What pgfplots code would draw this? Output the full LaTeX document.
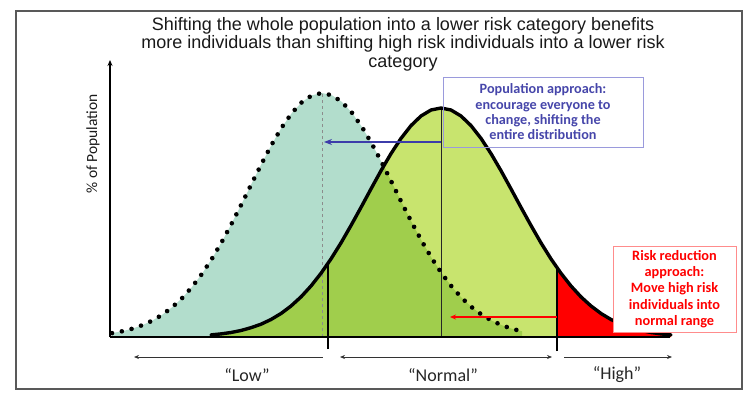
\documentclass[border=0pt]{standalone}
\usepackage{pgfplots}
\pgfplotsset{compat=1.18}
\usepackage{pgfplotstable}
\usetikzlibrary{arrows.meta}
\usepackage{fontspec}
\setmainfont{Liberation Sans}
\newfontfamily\calfont{Carlito}
\definecolor{teal1}{HTML}{B2DDCC}
\definecolor{lgreen}{HTML}{C8E46E}
\definecolor{dgreen}{HTML}{A0CE4C}
\definecolor{bluetxt}{HTML}{4646AA}
\definecolor{bluearr}{HTML}{3C3CAA}
\definecolor{blueborder}{HTML}{9A9ADC}
\definecolor{redborder}{HTML}{FF8C8C}

\pgfplotstableread{
x y
211 2.1
221 3.1
231 4.5
241 6.5
251 9.3
261 12.8
271 17.5
281 23.5
291 31.0
301 40.1
311 51.0
321 63.7
331 78.1
341 94.1
351 111.5
361 129.6
371 148.1
381 166.3
391 183.4
401 198.6
411 211.4
421 221.0
431 227.0
441 229.0
451 227.0
461 221.0
471 211.4
481 198.6
491 183.4
501 166.3
511 148.1
521 129.6
531 111.5
541 94.1
551 78.1
561 63.7
571 51.0
581 40.1
591 31.0
601 23.5
611 17.5
621 12.8
631 9.3
641 6.5
651 4.5
661 3.1
671 2.1
}\solid

\pgfplotstableread{
x y
112 3.9
122 5.7
132 8.2
142 11.7
152 16.2
162 22.1
172 29.6
182 38.8
192 50.0
202 63.2
212 78.4
222 95.5
232 114.1
242 133.8
252 154.1
262 174.1
272 193.0
282 210.0
292 224.2
302 235.0
312 241.7
322 244.0
332 241.7
342 235.0
352 224.2
362 210.0
372 193.0
382 174.1
392 154.1
402 133.8
412 114.1
422 95.5
432 78.4
442 63.2
452 50.0
462 38.8
472 29.6
482 22.1
492 16.2
502 11.7
512 8.2
522 5.7
}\dotted

\begin{document}
\begin{tikzpicture}[x=1pt,y=1pt]
\useasboundingbox (0,0) rectangle (750,400);
\draw[black!65, line width=1.6pt] (16,11) rectangle (742,389);
\node[align=center, font=\fontsize{18}{18.5}\selectfont, text=black!90] at (403,356)
  {Shifting the whole population into a lower risk category benefits\\
   more individuals than shifting high risk individuals into a lower risk\\
   category};
\begin{axis}[
  x=1pt, y=1pt, xmin=110, xmax=670, ymin=0, ymax=277,
  anchor=south west, at={(110,63)}, scale only axis,
  axis lines=left, xtick=\empty, ytick=\empty,
  x axis line style={-, line width=2.4pt},
  y axis line style={-{Stealth[length=6pt,width=5pt]}, line width=1.8pt},
  axis on top, clip=false,
]
% fills
\addplot[fill=teal1, draw=none] table {\dotted} \closedcycle;
\addplot[fill=lgreen, draw=none] table {\solid} \closedcycle;
\addplot[fill=dgreen, draw=none] coordinates {
(211,0)(211,2.1)(221,3.1)(231,4.5)(241,6.5)(251,9.3)(261,12.8)(271,17.5)(281,23.5)
(291,31.0)(301,40.1)(311,51.0)(321,63.7)(331,78.1)(341,94.1)(351,111.5)(361,129.6)
(371,148.1)(381,166.3)(384,171)(392,154.1)(402,133.8)(412,114.1)(422,95.5)(432,78.4)
(442,63.2)(452,50.0)(462,38.8)(472,29.6)(482,22.1)(492,16.2)(502,11.7)(512,8.2)
(522,5.7)(522,0)} -- cycle;
\addplot[fill=red, draw=none] coordinates {
(557,0)(557,69.3)(561,63.7)(571,51.0)(581,40.1)(591,31.0)(601,23.5)(611,17.5)
(621,12.8)(631,9.3)(641,6.5)(651,4.5)(661,3.1)(671,2.1)(671,0)} -- cycle;
% guide lines
\draw[black!45, dashed, line width=0.6pt] (322,0) -- (322,244);
\draw[black, line width=1.1pt] (328,-12) -- (328,73.6);
\draw[black, line width=1.5pt] (557,-14) -- (557,69.3);
\draw[black!85, line width=1pt] (441,0) -- (441,229);
% curves
\addplot[black, line width=4.6pt, line cap=round, dash pattern=on 0pt off 10pt] table {\dotted};
\addplot[black, line width=3.4pt, line cap=round, line join=round] table {\solid};
% arrows
\draw[bluearr, line width=2.3pt, -{Stealth[length=8pt,width=6pt]}] (441,195) -- (324,195);
\draw[red, line width=1.4pt, -{Stealth[length=6pt,width=5pt]}] (557,20) -- (450,20);
% boxes
\draw[blueborder, line width=0.8pt] (443,190) rectangle (643,260);
\node[align=center, text=bluetxt, font=\calfont\bfseries\fontsize{14.2}{15.3}\selectfont] at (543,225)
  {Population approach:\\encourage everyone to\\change, shifting the\\entire distribution};
\draw[redborder, fill=white, line width=0.8pt] (613,5) rectangle (736,91);
\node[align=center, text=red, font=\calfont\bfseries\fontsize{14.3}{16.2}\selectfont] at (674.5,48)
  {Risk reduction\\approach:\\Move high risk\\individuals into\\normal range};
% category arrows
\draw[black!80, line width=0.7pt, {Stealth[length=5pt,width=4pt]}-] (134,-20) -- (323,-20);
\draw[black!80, line width=0.7pt, {Stealth[length=5pt,width=4pt]}-{Stealth[length=5pt,width=4pt]}] (340,-20) -- (552,-20);
\draw[black!80, line width=0.7pt, -{Stealth[length=5pt,width=4pt]}] (564,-20) -- (672,-20);
\node[font=\calfont\fontsize{18}{20}\selectfont, text=black!85] at (247,-38) {“Low”};
\node[font=\calfont\fontsize{18}{20}\selectfont, text=black!85] at (443,-38) {“Normal”};
\node[font=\calfont\fontsize{18}{20}\selectfont, text=black!85] at (617,-38) {“High”};
% y label
\node[rotate=90, font=\calfont\fontsize{15.5}{17}\selectfont, text=black!90] at (93,193) {\% of Population};
\end{axis}
\end{tikzpicture}
\end{document}
